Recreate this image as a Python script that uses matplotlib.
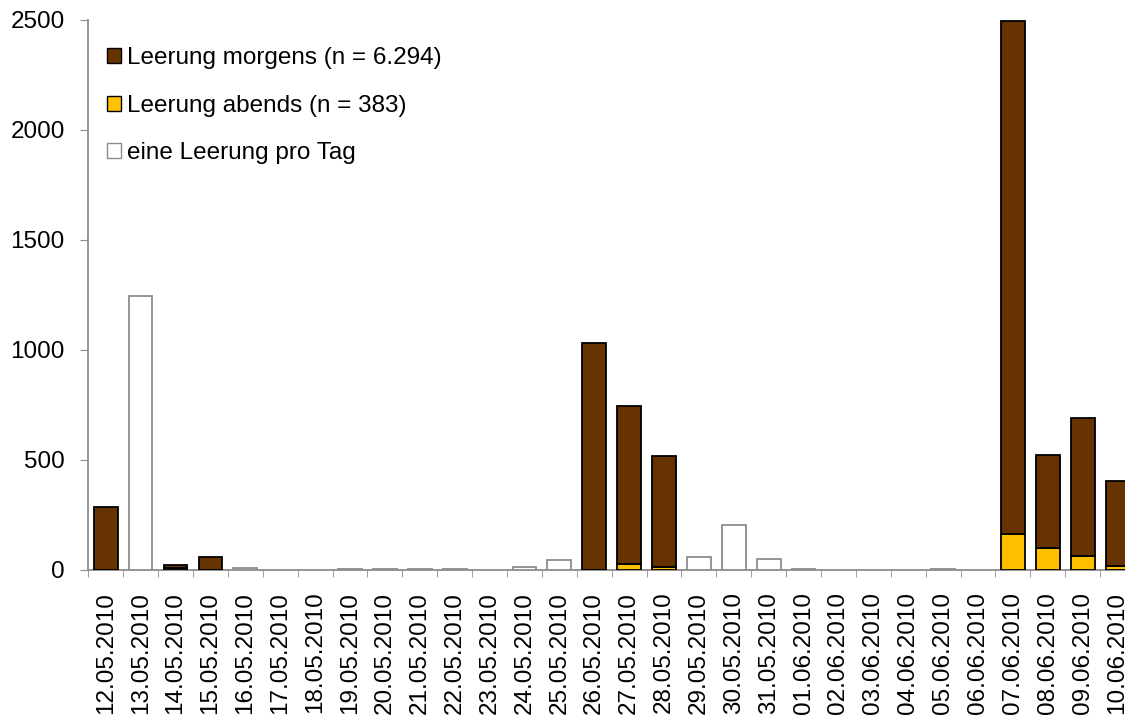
import numpy as np
import matplotlib
matplotlib.use("Agg")
import matplotlib.pyplot as plt
from matplotlib.patches import Patch

plt.rcParams["font.family"] = ["Liberation Sans", "DejaVu Sans"]

dates = [
    "12.05.2010", "13.05.2010", "14.05.2010", "15.05.2010", "16.05.2010",
    "17.05.2010", "18.05.2010", "19.05.2010", "20.05.2010", "21.05.2010",
    "22.05.2010", "23.05.2010", "24.05.2010", "25.05.2010", "26.05.2010",
    "27.05.2010", "28.05.2010", "29.05.2010", "30.05.2010", "31.05.2010",
    "01.06.2010", "02.06.2010", "03.06.2010", "04.06.2010", "05.06.2010",
    "06.06.2010", "07.06.2010", "08.06.2010", "09.06.2010", "10.06.2010",
]
# Leerung morgens
morgens = [285, 0, 13, 55, 0, 0, 0, 0, 0, 0,
           0, 0, 0, 0, 1030, 715, 508, 0, 0, 0,
           0, 0, 0, 0, 0, 0, 2334, 422, 627, 383]
# Leerung abends
abends = [0, 0, 8, 0, 0, 0, 0, 0, 0, 0,
          0, 0, 0, 0, 0, 27, 10, 0, 0, 0,
          0, 0, 0, 0, 0, 0, 161, 97, 61, 18]
# eine Leerung pro Tag
einmal = [0, 1245, 0, 0, 5, 0, 0, 4, 4, 4,
          4, 0, 13, 42, 0, 0, 0, 56, 203, 49,
          4, 0, 0, 0, 4, 0, 0, 0, 0, 0]

labels = ["Leerung morgens (n = 6.294)", "Leerung abends (n = 383)",
          "eine Leerung pro Tag"]

x = np.arange(len(dates))
m = np.array(morgens, dtype=float)
a = np.array(abends, dtype=float)
e = np.array(einmal, dtype=float)
w = 0.68

fig = plt.figure(figsize=(11.25, 7.16), dpi=100)
# Achse reicht rechts etwas ueber das Bild hinaus (wie im Original)
ax = fig.add_axes([88.3 / 1125, 1 - 569.5 / 716, 1046.7 / 1125, 549.5 / 716])

# gestapelte Balken: abends unten, morgens oben
sel = a > 0
ax.bar(x[sel], a[sel], w, color="#FFC000", edgecolor="black", lw=1.3, zorder=3)
sel = m > 0
ax.bar(x[sel], m[sel], w, bottom=a[sel], color="#663300", edgecolor="black",
       lw=1.3, zorder=3)
sel = e > 0
ax.bar(x[sel], e[sel], w, color="white", edgecolor="#8c8c8c", lw=1.3, zorder=3)

handles = [
    Patch(facecolor="#663300", edgecolor="black"),
    Patch(facecolor="#FFC000", edgecolor="black"),
    Patch(facecolor="white", edgecolor="#8c8c8c"),
]
ax.legend(handles, labels, loc="upper left", frameon=False, fontsize=17.5,
          handlelength=0.58, handleheight=0.58, handletextpad=0.25,
          labelspacing=1.05, bbox_to_anchor=(-0.003, 0.99), borderaxespad=0.5)

ax.set_xlim(-0.5, len(dates) - 0.5)
ax.set_ylim(0, 2500)
ax.set_yticks(np.arange(0, 2501, 500))
ax.tick_params(axis="y", labelsize=17.5, length=6, color="#8c8c8c", pad=11)

ax.set_xticks(x)
ax.set_xticklabels(dates, rotation=90, fontsize=17.5, va="top")
ax.tick_params(axis="x", length=0, pad=16)
ax.set_xticks(np.arange(-0.5, len(dates), 1), minor=True)
ax.tick_params(axis="x", which="minor", length=5, color="#8c8c8c")

for s in ["top", "right"]:
    ax.spines[s].set_visible(False)
for s in ["left", "bottom"]:
    ax.spines[s].set_color("#8c8c8c")
    ax.spines[s].set_linewidth(1.3)

fig.savefig("out.png", dpi=100)
